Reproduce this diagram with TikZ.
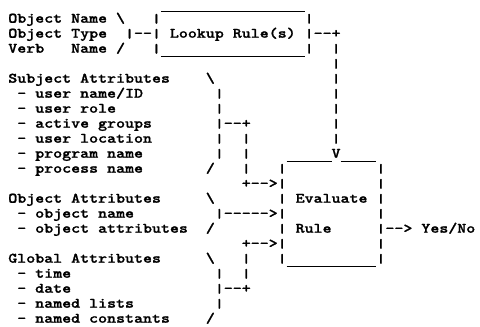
\documentclass[tikz,border=0pt]{standalone}
\usepackage{fontspec}
\usepackage{graphicx}
\newfontfamily\asc[FakeStretch=1.18,FakeBold=1.2]{lmmonolt10-bold.otf}
\newcommand\mi{-\kern0pt\relax}
\newcommand\bs{\char"5C\relax}
\newcommand\br{\scalebox{1}[0.88]{|}}
\tikzset{
  cell/.style={anchor=base west, inner sep=0pt, outer sep=0pt,
    font=\asc\fontsize{14.5}{15}\selectfont, text=black},
  boxline/.style={line width=1.4pt, black}
}
% \cellat{name}{col}{row}{text}
\newcommand\cellat[4]{\node[cell] (#1) at ({8.3+8.98*(#2)},{22.7+15*(#3)}) {#4};}
\newcommand\ulat[3]{\coordinate (#1) at ({8.3+8.98*(#2)},{26.2+15*(#3)});}
\begin{document}
\begin{tikzpicture}[x=1pt,y=-1pt]
\fill[white] (0,0) rectangle (480,327);
\useasboundingbox (0,0) rectangle (480,327);
% ---- Lookup block ----
\cellat{on}{0}{0}{Object Name}
\cellat{onb}{12}{0}{\bs}
\cellat{lb0l}{16}{0}{\br}
\cellat{lb0r}{33}{0}{\br}
\cellat{ot}{0}{1}{Object Type}
\cellat{otc}{13}{1}{\br\mi\mi\br}
\cellat{lookup}{18}{1}{Lookup Rule(s)}
\cellat{lbout}{33}{1}{\br\mi\mi+}
\cellat{vb}{0}{2}{Verb}
\cellat{vn}{7}{2}{Name}
\cellat{vns}{12}{2}{/}
\cellat{lb2l}{16}{2}{\br}
\cellat{lb2r}{33}{2}{\br}
\ulat{lt1}{17}{-1}\ulat{lt2}{33}{-1}
\ulat{lbot1}{17}{2}\ulat{lbot2}{33}{2}
\draw[boxline] (lt1) -- (lt2);
\draw[boxline] (lbot1) -- (lbot2);
% vertical from lookup to evaluate
\cellat{d2}{36}{2}{\br}
\cellat{d3}{36}{3}{\br}
\cellat{d4}{36}{4}{\br}
\cellat{d5}{36}{5}{\br}
\cellat{d6}{36}{6}{\br}
\cellat{d7}{36}{7}{\br}
\cellat{d8}{36}{8}{\br}
\cellat{dv}{36}{9}{V}
% ---- Subject attributes ----
\cellat{sa}{0}{4}{Subject Attributes}
\cellat{sab}{22}{4}{\bs}
\cellat{s1d}{1}{5}{-}\cellat{s1}{3}{5}{user name/ID}
\cellat{s2d}{1}{6}{-}\cellat{s2}{3}{6}{user role}
\cellat{s3d}{1}{7}{-}\cellat{s3}{3}{7}{active groups}
\cellat{s4d}{1}{8}{-}\cellat{s4}{3}{8}{user location}
\cellat{s5d}{1}{9}{-}\cellat{s5}{3}{9}{program name}
\cellat{s6d}{1}{10}{-}\cellat{s6}{3}{10}{process name}
\cellat{sb5}{23}{5}{\br}
\cellat{sb6}{23}{6}{\br}
\cellat{sb7}{23}{7}{\br\mi\mi+}
\cellat{sb8}{23}{8}{\br}
\cellat{sb9}{23}{9}{\br}
\cellat{sbs}{22}{10}{/}
\cellat{sc8}{26}{8}{\br}
\cellat{sc9}{26}{9}{\br}
\cellat{sc10}{26}{10}{\br}
\cellat{sarr}{26}{11}{+\mi\mi>}
% ---- Object attributes ----
\cellat{oa}{0}{12}{Object Attributes}
\cellat{oab}{22}{12}{\bs}
\cellat{o1d}{1}{13}{-}\cellat{o1}{3}{13}{object name}
\cellat{o2d}{1}{14}{-}\cellat{o2}{3}{14}{object attributes}
\cellat{oarr}{23}{13}{\br\mi\mi\mi\mi\mi>}
\cellat{oas}{22}{14}{/}
% ---- Global attributes ----
\cellat{ga}{0}{16}{Global Attributes}
\cellat{gab}{22}{16}{\bs}
\cellat{g1d}{1}{17}{-}\cellat{g1}{3}{17}{time}
\cellat{g2d}{1}{18}{-}\cellat{g2}{3}{18}{date}
\cellat{g3d}{1}{19}{-}\cellat{g3}{3}{19}{named lists}
\cellat{g4d}{1}{20}{-}\cellat{g4}{3}{20}{named constants}
\cellat{gb17}{23}{17}{\br}
\cellat{gb18}{23}{18}{\br\mi\mi+}
\cellat{gb19}{23}{19}{\br}
\cellat{gbs}{22}{20}{/}
\cellat{gc16}{26}{16}{\br}
\cellat{gc17}{26}{17}{\br}
\cellat{garr}{26}{15}{+\mi\mi>}
% ---- Evaluate box ----
\ulat{et1}{31}{9}\ulat{et2}{36}{9}
\ulat{et3}{37}{9}\ulat{et4}{41}{9}
\draw[boxline] (et1) -- (et2);
\draw[boxline] (et3) -- (et4);
\ulat{eb1}{31}{16}\ulat{eb2}{41}{16}
\draw[boxline] (eb1) -- (eb2);
\cellat{el10}{30}{10}{\br}\cellat{er10}{41}{10}{\br}
\cellat{el11}{30}{11}{\br}\cellat{er11}{41}{11}{\br}
\cellat{el12}{30}{12}{\br}\cellat{er12}{41}{12}{\br}
\cellat{el13}{30}{13}{\br}\cellat{er13}{41}{13}{\br}
\cellat{el14}{30}{14}{\br}\cellat{er14}{41}{14}{\br\mi\mi>}
\cellat{el15}{30}{15}{\br}\cellat{er15}{41}{15}{\br}
\cellat{el16}{30}{16}{\br}\cellat{er16}{41}{16}{\br}
\cellat{eval}{32}{12}{Evaluate}
\cellat{rule}{32}{14}{Rule}
\cellat{yn}{46}{14}{Yes/No}
\end{tikzpicture}
\end{document}
